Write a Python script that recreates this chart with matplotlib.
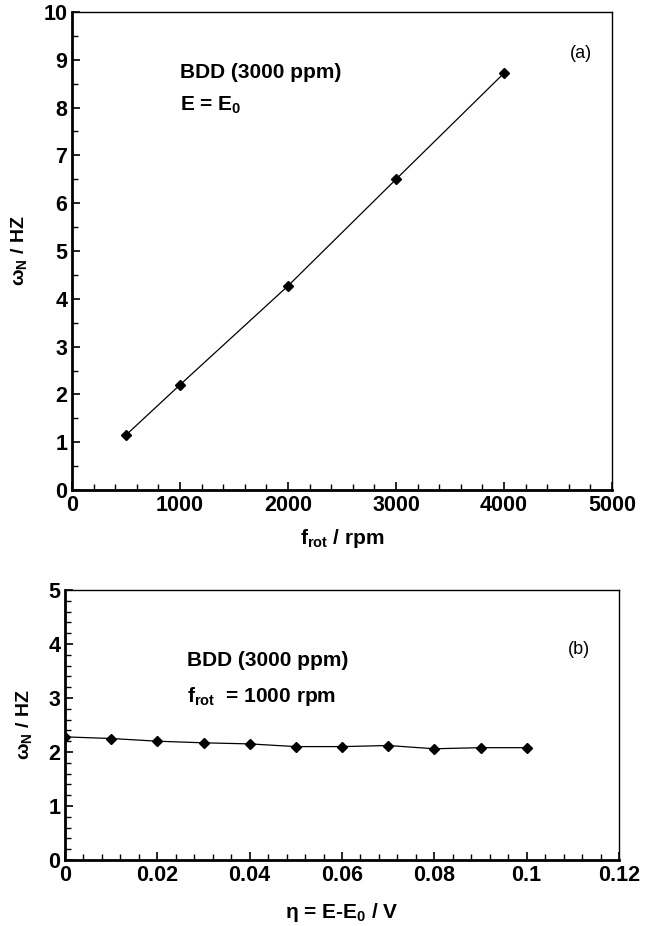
import numpy as np
import matplotlib
matplotlib.use('Agg')
from matplotlib import pyplot as plt
from matplotlib.ticker import MultipleLocator

plt.rcParams['font.family'] = ['Liberation Sans', 'DejaVu Sans']
plt.rcParams['font.weight'] = 'bold'
plt.rcParams['mathtext.fontset'] = 'custom'
plt.rcParams['mathtext.rm'] = 'Liberation Sans:bold'
plt.rcParams['mathtext.bf'] = 'Liberation Sans:bold'
plt.rcParams['mathtext.it'] = 'Liberation Sans:bold'

# panel (a)
f_rot = [500, 1000, 2000, 3000, 4000]
omega_a = [1.15, 2.2, 4.27, 6.5, 8.72]

# panel (b)
eta = [0, 0.01, 0.02, 0.03, 0.04, 0.05, 0.06, 0.07, 0.08, 0.09, 0.1]
omega_b = [2.28, 2.25, 2.2, 2.17, 2.15, 2.1, 2.1, 2.12, 2.06, 2.08, 2.08]

fig = plt.figure(figsize=(6.48, 9.26), dpi=100)
ax1 = fig.add_axes([72/648, 1-490/926, 540/648, 478/926])
ax2 = fig.add_axes([65/648, 1-860/926, 554/648, 270/926])

for ax in (ax1, ax2):
    ax.tick_params(which='both', direction='in', labelsize=15.5, top=False, right=False)
    ax.tick_params(which='major', length=6, width=1.2)
    ax.tick_params(which='minor', length=4, width=1.0)
    for s in ('left', 'bottom'):
        ax.spines[s].set_linewidth(2)
    for s in ('top', 'right'):
        ax.spines[s].set_linewidth(1)

ax1.plot(f_rot, omega_a, color='black', lw=0.9, marker='D', ms=5.5)
ax1.set_xlim(0, 5000)
ax1.set_ylim(0, 10)
ax1.xaxis.set_major_locator(MultipleLocator(1000))
ax1.xaxis.set_minor_locator(MultipleLocator(200))
ax1.yaxis.set_major_locator(MultipleLocator(1))
ax1.yaxis.set_minor_locator(MultipleLocator(0.5))
ax1.set_xlabel(r'f$_{\mathrm{rot}}$ / rpm', fontsize=15, fontweight='bold', labelpad=8)
ax1.set_ylabel(r'$\omega_{\mathrm{N}}$ / HZ', fontsize=14, fontweight='bold', labelpad=10)
ax1.text(1000, 8.74, 'BDD (3000 ppm)', fontsize=15, fontweight='bold', va='center')
ax1.text(1000, 8.05, r'E = E$_{\mathrm{0}}$', fontsize=15, fontweight='bold', va='center')
ax1.text(4610, 9.14, '(a)', fontsize=13, fontweight='normal', va='center')

ax2.plot(eta, omega_b, color='black', lw=0.9, marker='D', ms=5.5)
ax2.set_xlim(0, 0.12)
ax2.set_ylim(0, 5)
ax2.xaxis.set_major_locator(MultipleLocator(0.02))
ax2.xaxis.set_minor_locator(MultipleLocator(0.004))
ax2.yaxis.set_major_locator(MultipleLocator(1))
ax2.yaxis.set_minor_locator(MultipleLocator(0.2))
ax2.xaxis.set_major_formatter(plt.FuncFormatter(lambda v, p: '%g' % round(v, 3)))
ax2.set_xlabel(r'$\eta$ = E-E$_{\mathrm{0}}$ / V', fontsize=15, fontweight='bold', labelpad=11)
ax2.set_ylabel(r'$\omega_{\mathrm{N}}$ / HZ', fontsize=14, fontweight='bold', labelpad=10)
ax2.text(0.0265, 3.7, 'BDD (3000 ppm)', fontsize=15, fontweight='bold', va='center')
ax2.text(0.0265, 3.03, r'f$_{\mathrm{rot}}$  = 1000 rpm', fontsize=15, fontweight='bold', va='center')
ax2.text(0.109, 3.9, '(b)', fontsize=13, fontweight='normal', va='center')

for ax in (ax1, ax2):
    for lab in ax.get_xticklabels() + ax.get_yticklabels():
        lab.set_fontweight('bold')

fig.savefig('out.png', dpi=100)
